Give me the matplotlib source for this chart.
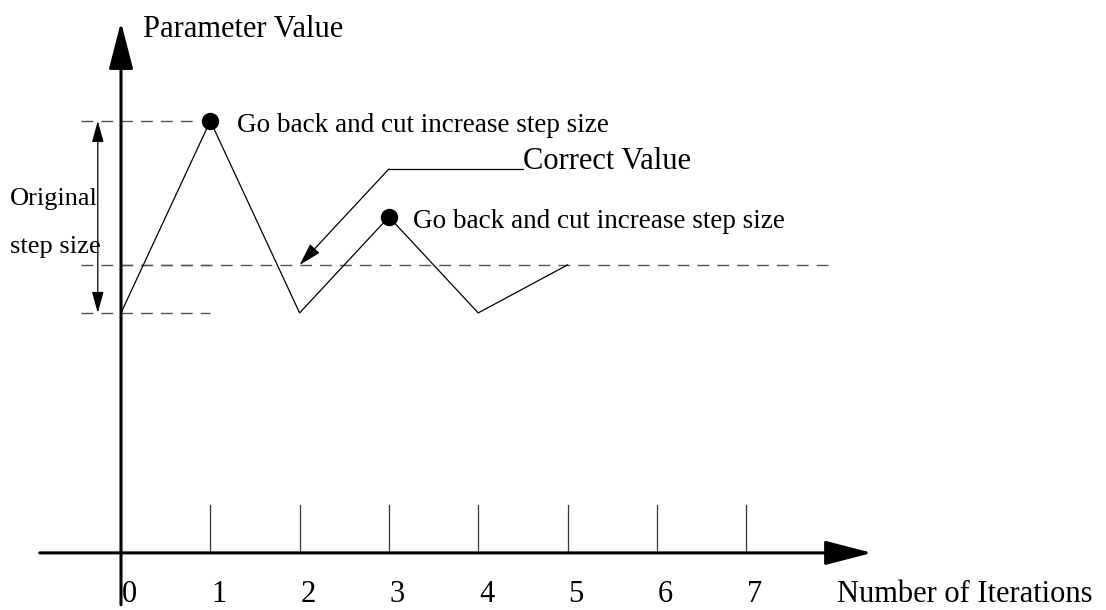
import matplotlib
matplotlib.use("Agg")
import matplotlib.pyplot as plt
from matplotlib.patches import ArrowStyle

plt.rcParams['font.family'] = ['Liberation Serif', 'DejaVu Serif']

# iterations and parameter values (arbitrary units, correct value = 1)
iterations = [0, 1, 2, 3, 4, 5]
values = [0, 4, 0, 2, 0, 1]
correct_value = 1
cut_points = [1, 3]          # iterations where we go back and cut
tick_positions = [1, 2, 3, 4, 5, 6, 7]
tick_labels = ['0', '1', '2', '3', '4', '5', '6', '7']
label_positions = [0, 1, 2, 3, 4, 5, 6, 7]

fig = plt.figure(figsize=(11.06, 6.10), dpi=100)
ax = fig.add_axes([0, 0, 1, 1])
ax.set_xlim(-1.355, 11.03)
ax.set_ylim(-6.19, 6.52)
ax.axis('off')

def arrow(start, end, lw, hl, hw, style='-|>'):
    st = ArrowStyle(style, head_length=hl, head_width=hw)
    ax.annotate('', xy=end, xytext=start,
                arrowprops=dict(arrowstyle=st, color='black', lw=lw,
                                mutation_scale=1, shrinkA=0, shrinkB=0))

# axes with arrows
axis_y = -5
arrow((-0.91, axis_y), (8.41, axis_y), 2.2, 29, 7.5)
arrow((0, -6.08), (0, 6.06), 2.2, 29, 7.5)

# tick marks above the x axis
for t in tick_positions:
    ax.plot([t, t], [axis_y, axis_y + 1], color='#333333', lw=0.9)
for p, lab in zip(label_positions, tick_labels):
    ax.text(p + 0.01, -6.03, lab, fontsize=22, ha='left', va='baseline')

ax.text(8.02, -6.03, 'Number of Iterations', fontsize=22, ha='left', va='baseline')
ax.text(0.246, 5.75, 'Parameter Value', fontsize=22, ha='left', va='baseline')

# dashed guide lines
dash = dict(color='#555555', lw=1.0, dashes=(8.5, 5.8))
ax.plot([-0.45, 0.85], [max(values)] * 2, **dash)
ax.plot([-0.45, 1.0], [min(values)] * 2, **dash)
ax.plot([-0.45, 1.0], [correct_value] * 2, **dash)
ax.plot([0, 7.95], [correct_value] * 2, **dash)

# parameter path
ax.plot(iterations, values, color='black', lw=0.9)
for c in cut_points:
    ax.plot(c, values[c], 'o', color='black', markersize=11.5)
ax.annotate('Go back and cut increase step size', (cut_points[0], values[cut_points[0]]),
            xytext=(19.5, -8), textcoords='offset points', fontsize=19.5,
            ha='left', va='baseline')
ax.annotate('Go back and cut increase step size', (cut_points[1], values[cut_points[1]]),
            xytext=(17.3, -8), textcoords='offset points', fontsize=19.5,
            ha='left', va='baseline')

# original step size double arrow
arrow((-0.26, min(values)), (-0.26, max(values)), 0.9, 13, 3.6, style='<|-|>')
ax.text(-1.243, 2.25, 'Original', fontsize=19, ha='left', va='baseline')
ax.text(-1.243, 1.25, 'step size', fontsize=19, ha='left', va='baseline')

# correct value pointer
ax.plot([4.5, 3], [3, 3], color='black', lw=0.9)
arrow((3, 3), (2, correct_value), 0.9, 14, 4)
ax.text(4.5, 3, 'Correct Value', fontsize=22, ha='left', va='baseline')

fig.savefig('out.png', dpi=100)
